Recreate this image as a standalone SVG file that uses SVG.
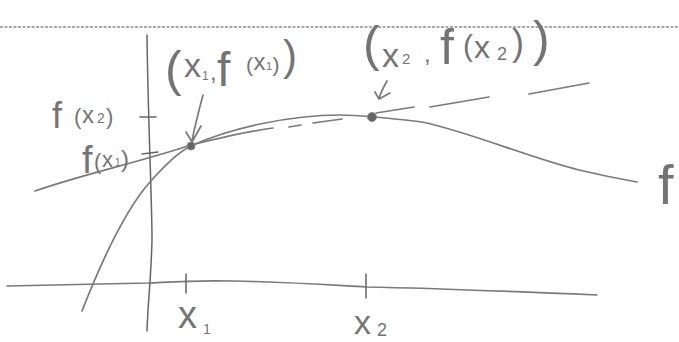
<svg xmlns="http://www.w3.org/2000/svg" width="679" height="342" viewBox="0 0 679 342">
<style>
.ln{fill:none;stroke:#7a7a7a;stroke-width:1.7;stroke-linecap:round;stroke-linejoin:round}
.dk{fill:none;stroke:#666;stroke-width:1.5;stroke-linecap:round}
.lbl{font-family:"Liberation Sans",Arial,sans-serif;fill:#747474}
.pt{fill:#666;stroke:#888;stroke-width:1}
</style>
<rect width="679" height="342" fill="#fff"/>
<line x1="0" y1="27" x2="679" y2="27" stroke="#555" stroke-width="1" stroke-dasharray="3 1.5"/>
<g id="axes">
<path class="dk" d="M147,35 C148,120 152,200 152,240 C151,280 148,300 147,331"/>
<path class="ln" d="M7,286 C60,285 110,284 148,283 C170,282 190,280 233,281 C290,282 330,285 366,287 C420,288 480,290 597,295"/>
<path class="dk" d="M186,274 L186,293 M366,274 L366,298 M140,117 L156,117 M142,154 L158,152"/>
</g>
<g id="curve-f">
<path class="ln" d="M82,311 C100,265 125,210 150,182 C165,165 178,152 191,146 C230,128 290,115 340,115 C360,115 380,117 422,122 C470,132 530,158 579,170 C600,175 620,179 637,182"/>
</g>
<g id="secant">
<path class="ln" d="M35,191 C80,175 140,162 191,145 C220,138 250,131 273,128"/>
<path class="ln" d="M289,127 L301,125 M313,123 L342,119 M376,113 L414,107 M430,107 L489,97 M529,94 L589,83"/>
</g>
<g id="point-1"><circle class="pt" cx="191" cy="146" r="4"/></g>
<g id="point-2"><circle class="pt" cx="372" cy="117" r="4.5"/></g>
<g id="connectors">
<path class="ln" d="M203,95 C199,110 195,125 192,141 M186,132 L192,142 L201,126"/>
<path class="ln" d="M387,81 C383,88 380,94 379,99 M375,92 L379,99 L390,93"/>
</g>
<g id="label-p1">
<text class="lbl"><tspan x="165" y="86" font-size="50">(</tspan><tspan x="184" y="77" font-size="34">x</tspan><tspan x="202" y="80" font-size="12">1</tspan><tspan x="210" y="80" font-size="24">,</tspan><tspan x="217" y="86" font-size="48">f</tspan><tspan x="246" y="72" font-size="21">(</tspan><tspan x="253.5" y="70" font-size="24">x</tspan><tspan x="266" y="70" font-size="11">1</tspan><tspan x="272.5" y="72" font-size="21">)</tspan><tspan x="283" y="70" font-size="42">)</tspan></text>
</g>
<g id="label-p2">
<text class="lbl"><tspan x="363" y="61" font-size="50">(</tspan><tspan x="382" y="67" font-size="34">x</tspan><tspan x="402" y="64" font-size="15">2</tspan><tspan x="424" y="62" font-size="24">,</tspan><tspan x="440" y="64" font-size="50">f</tspan><tspan x="463" y="56" font-size="30">(</tspan><tspan x="474" y="58" font-size="32">x</tspan><tspan x="497" y="60" font-size="18">2</tspan><tspan x="512" y="55" font-size="36">)</tspan><tspan x="533" y="56" font-size="50">)</tspan></text>
</g>
<g id="label-fx2">
<text class="lbl"><tspan x="52" y="128" font-size="36">f</tspan><tspan x="74" y="124" font-size="22">(</tspan><tspan x="82" y="123" font-size="24">x</tspan><tspan x="97" y="123" font-size="14">2</tspan><tspan x="106" y="124" font-size="22">)</tspan></text>
</g>
<g id="label-fx1">
<text class="lbl"><tspan x="82" y="173" font-size="38">f</tspan><tspan x="94" y="169" font-size="22">(</tspan><tspan x="102" y="167" font-size="22">x</tspan><tspan x="115" y="166" font-size="10">1</tspan><tspan x="121" y="167" font-size="24">)</tspan></text>
</g>
<g id="label-x1">
<text class="lbl"><tspan x="178" y="328" font-size="38">x</tspan><tspan x="203" y="334" font-size="14">1</tspan></text>
</g>
<g id="label-x2">
<text class="lbl"><tspan x="354" y="334" font-size="34">x</tspan><tspan x="377" y="336" font-size="18">2</tspan></text>
</g>
<g id="label-f">
<text class="lbl" x="658" y="204" font-size="56">f</text>
</g>
</svg>
